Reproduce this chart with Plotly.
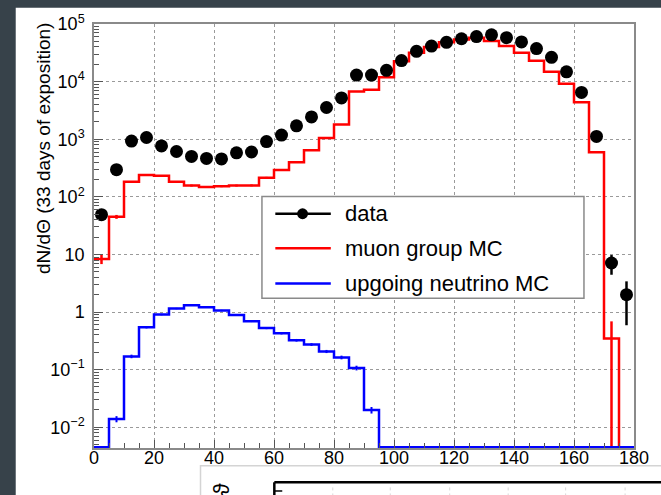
import numpy as np
import plotly.graph_objects as go

# ---------------- data: dN/dtheta in 5-degree bins, 0..180 ----------------
bin_edges = list(range(0, 185, 5))
bin_centers = [e + 2.5 for e in bin_edges[:-1]]

data_counts = [49, 296, 930, 1070, 765, 612, 502, 464, 455, 580, 600, 910,
               1180, 1710, 2440, 3550, 5200, 12970, 13000, 15700, 23200, 33500,
               41300, 48000, 55500, 60500, 65000, 58000, 48800, 37500, 26400,
               14800, 6500, 1120, 7.1, 2.0]
data_errors = [7, 17, 30, 33, 28, 25, 22, 22, 21, 24, 24, 30,
               34, 41, 49, 60, 72, 114, 114, 125, 152, 183,
               203, 219, 236, 246, 255, 241, 221, 194, 162,
               122, 81, 33, 2.66, 1.41]

muon_mc = [8.3, 45, 182, 240, 232, 182, 157, 148, 153, 157, 158, 215,
           293, 397, 646, 1050, 1800, 6750, 7200, 11900, 22500, 31800,
           39700, 48300, 53700, 57500, 50500, 41500, 31700, 23000, 14800,
           9200, 4400, 596, 0.346, 0]
muon_mc_err = [1.5, 3.5, 6, 7, 7, 6, 6, 5, 6, 6, 6, 7,
               8, 10, 12, 16, 20, 40, 40, 52, 70, 85,
               95, 105, 110, 115, 108, 97, 85, 72, 58,
               45, 32, 12, 0.343, 0]

nu_mc = [0, 0.0139, 0.170, 0.542, 0.906, 1.15, 1.31, 1.21, 1.06, 0.89,
         0.695, 0.527, 0.428, 0.324, 0.273, 0.207, 0.163, 0.107, 0.0199,
         0, 0, 0, 0, 0, 0, 0, 0, 0, 0, 0, 0, 0, 0, 0, 0, 0]
nu_mc_err = [0, 0.0017, 0.012, 0.022, 0.028, 0.032, 0.034, 0.033, 0.031, 0.028,
             0.025, 0.022, 0.019, 0.017, 0.015, 0.013, 0.012, 0.010, 0.0026,
             0, 0, 0, 0, 0, 0, 0, 0, 0, 0, 0, 0, 0, 0, 0, 0, 0]

y_tick_vals = [1e-2, 1e-1, 1, 10, 1e2, 1e3, 1e4, 1e5]
y_tick_text = ["10<sup>\u22122</sup>", "10<sup>\u22121</sup>", "1", "10",
               "10<sup>2</sup>", "10<sup>3</sup>", "10<sup>4</sup>", "10<sup>5</sup>"]
x_tick_vals = list(range(0, 181, 20))

legend_labels = ["data", "muon group MC", "upgoing neutrino MC"]

# ---------------- geometry ----------------
W, H = 661, 495
ML, MR, MT, MB = 94, 22, 19, 47
PW, PH = W - ML - MR, H - MT - MB
LOG_YMIN, LOG_YMAX = -2.36, 5.0
FLOOR = 10 ** (LOG_YMIN + 0.015)   # empty bins sit on the bottom of the pad

FONT = "Liberation Sans, Arial, Helvetica, sans-serif"
DARK = "#37424a"


def px(x):
    return (x - ML) / PW


def py(y):
    return (MT + PH - y) / PH


def step_outline(values, from_floor):
    """Histogram outline through every bin, ending on the pad floor;
    optionally rising from the floor at the first edge."""
    shown = [v if v > 0 else FLOOR for v in values]
    xs = ([bin_edges[0]] if from_floor else []) + bin_edges
    ys = ([FLOOR] if from_floor else []) + shown + [FLOOR]
    return xs, ys


def error_trace(values, errors, color, width):
    return go.Scatter(x=bin_centers, y=values, mode="markers",
                      marker=dict(size=2, opacity=0, color=color),
                      error_y=dict(type="data", array=errors, color=color, thickness=width, width=0),
                      showlegend=False, hoverinfo="skip")


fig = go.Figure()

# muon MC histogram
mx, my = step_outline(muon_mc, from_floor=False)
fig.add_trace(go.Scatter(x=mx, y=my, mode="lines", line=dict(color="#ff0000", width=2.5, shape="hv"),
                         showlegend=False, hoverinfo="skip"))
fig.add_trace(error_trace(muon_mc, muon_mc_err, "#ff0000", 2.5))

# upgoing neutrino MC histogram
nx, ny = step_outline(nu_mc, from_floor=True)
fig.add_trace(go.Scatter(x=nx, y=ny, mode="lines", line=dict(color="#0000ff", width=2.5, shape="hv"),
                         showlegend=False, hoverinfo="skip"))
fig.add_trace(error_trace(nu_mc, nu_mc_err, "#0000ff", 2))

# data points
fig.add_trace(go.Scatter(x=bin_centers, y=data_counts, mode="markers",
                         marker=dict(size=13, color="black", symbol="circle"),
                         error_y=dict(type="data", array=data_errors, color="black", thickness=2.5, width=0),
                         showlegend=False))

# ---------------- axes ----------------
minor_y = [k * 10.0 ** n for n in range(-3, 5) for k in range(2, 10)
           if LOG_YMIN < np.log10(k * 10.0 ** n) < LOG_YMAX]

fig.update_xaxes(range=[0, 180], tickmode="array", tickvals=x_tick_vals,
                 ticks="inside", ticklen=8, tickwidth=1.2, tickcolor="#555",
                 minor=dict(tickmode="linear", tick0=0, dtick=5, ticks="inside", ticklen=5,
                            tickwidth=1.2, tickcolor="#555", showgrid=False),
                 showgrid=True, gridcolor="#9a9a9a", griddash="dot", gridwidth=1,
                 showline=True, mirror=True, linecolor="#8a8a8a", linewidth=1.5,
                 zeroline=False, tickfont=dict(family=FONT, size=18, color="black"),
                 ticklabelstandoff=-7)
fig.update_yaxes(type="log", range=[LOG_YMIN, LOG_YMAX], tickmode="array",
                 tickvals=y_tick_vals, ticktext=y_tick_text,
                 ticks="inside", ticklen=9, tickwidth=1.2, tickcolor="#555",
                 minor=dict(tickmode="array", tickvals=minor_y, ticks="inside", ticklen=5,
                            tickwidth=1.2, tickcolor="#555", showgrid=False),
                 showgrid=True, gridcolor="#9a9a9a", griddash="dot", gridwidth=1,
                 showline=True, mirror=True, linecolor="#8a8a8a", linewidth=1.5,
                 zeroline=False, tickfont=dict(family=FONT, size=18, color="black"),
                 ticklabelstandoff=4)

shapes = []
annotations = []

# white page on the dark slide background
shapes.append(dict(type="rect", xref="paper", yref="paper", layer="below",
                   x0=px(15), x1=px(W + 10), y0=py(H + 10), y1=py(2.5),
                   fillcolor="white", line=dict(width=0)))

# y-axis title, aligned towards the top of the axis
annotations.append(dict(xref="paper", yref="paper", x=px(43), y=py(145),
                        text="dN/d\u0398 (33 days of exposition)", textangle=-90,
                        showarrow=False, xanchor="center", yanchor="middle",
                        font=dict(family=FONT, size=19, color="black")))

# ---------------- legend box ----------------
shapes.append(dict(type="rect", xref="paper", yref="paper",
                   x0=px(263.5), x1=px(588.5), y0=py(296.5), y1=py(193.5),
                   fillcolor="white", line=dict(color="#8a8a8a", width=1.5), layer="above"))
rows = [211, 246, 281.5]
colors = ["black", "#ff0000", "#0000ff"]
for row, col, label in zip(rows, colors, legend_labels):
    shapes.append(dict(type="line", xref="paper", yref="paper",
                       x0=px(277), x1=px(333), y0=py(row), y1=py(row),
                       line=dict(color=col, width=2.5), layer="above"))
    annotations.append(dict(xref="paper", yref="paper", x=px(345), y=py(row),
                            text=label, showarrow=False, xanchor="left", yanchor="middle",
                            font=dict(family=FONT, size=22, color="black")))
shapes.append(dict(type="circle", xref="paper", yref="paper",
                   x0=px(299), x1=px(310), y0=py(216.5), y1=py(205.5),
                   fillcolor="black", line=dict(color="black", width=0), layer="above"))

# ---------------- edge of the next figure on the slide ----------------
shapes.append(dict(type="rect", xref="paper", yref="paper",
                   x0=px(201.5), x1=px(W + 10), y0=py(H + 10), y1=py(466),
                   fillcolor="white", line=dict(color="#d4d4d4", width=1.5), layer="above"))
for gx in [335, 393, 453, 512, 570, 630]:
    shapes.append(dict(type="line", xref="paper", yref="paper",
                       x0=px(gx), x1=px(gx), y0=py(H + 2), y1=py(485),
                       line=dict(color="#d8d8d8", width=1, dash="dot"), layer="above"))
shapes.append(dict(type="line", xref="paper", yref="paper",
                   x0=px(276), x1=px(W + 10), y0=py(482.7), y1=py(482.7),
                   line=dict(color="black", width=2.5), layer="above"))
shapes.append(dict(type="line", xref="paper", yref="paper",
                   x0=px(276), x1=px(276), y0=py(482.7), y1=py(H + 10),
                   line=dict(color="black", width=2.5), layer="above"))
shapes.append(dict(type="line", xref="paper", yref="paper",
                   x0=px(276), x1=px(284), y0=py(491.5), y1=py(491.5),
                   line=dict(color="black", width=1.5), layer="above"))
annotations.append(dict(xref="paper", yref="paper", x=px(223), y=py(490),
                        text="\u03d1", textangle=-90, showarrow=False,
                        xanchor="center", yanchor="middle",
                        font=dict(family=FONT, size=22, color="black")))

fig.update_layout(width=W, height=H, margin=dict(l=ML, r=MR, t=MT, b=MB, pad=0),
                  paper_bgcolor=DARK, plot_bgcolor="white",
                  shapes=shapes, annotations=annotations, showlegend=False)

fig.write_html("out.html")
